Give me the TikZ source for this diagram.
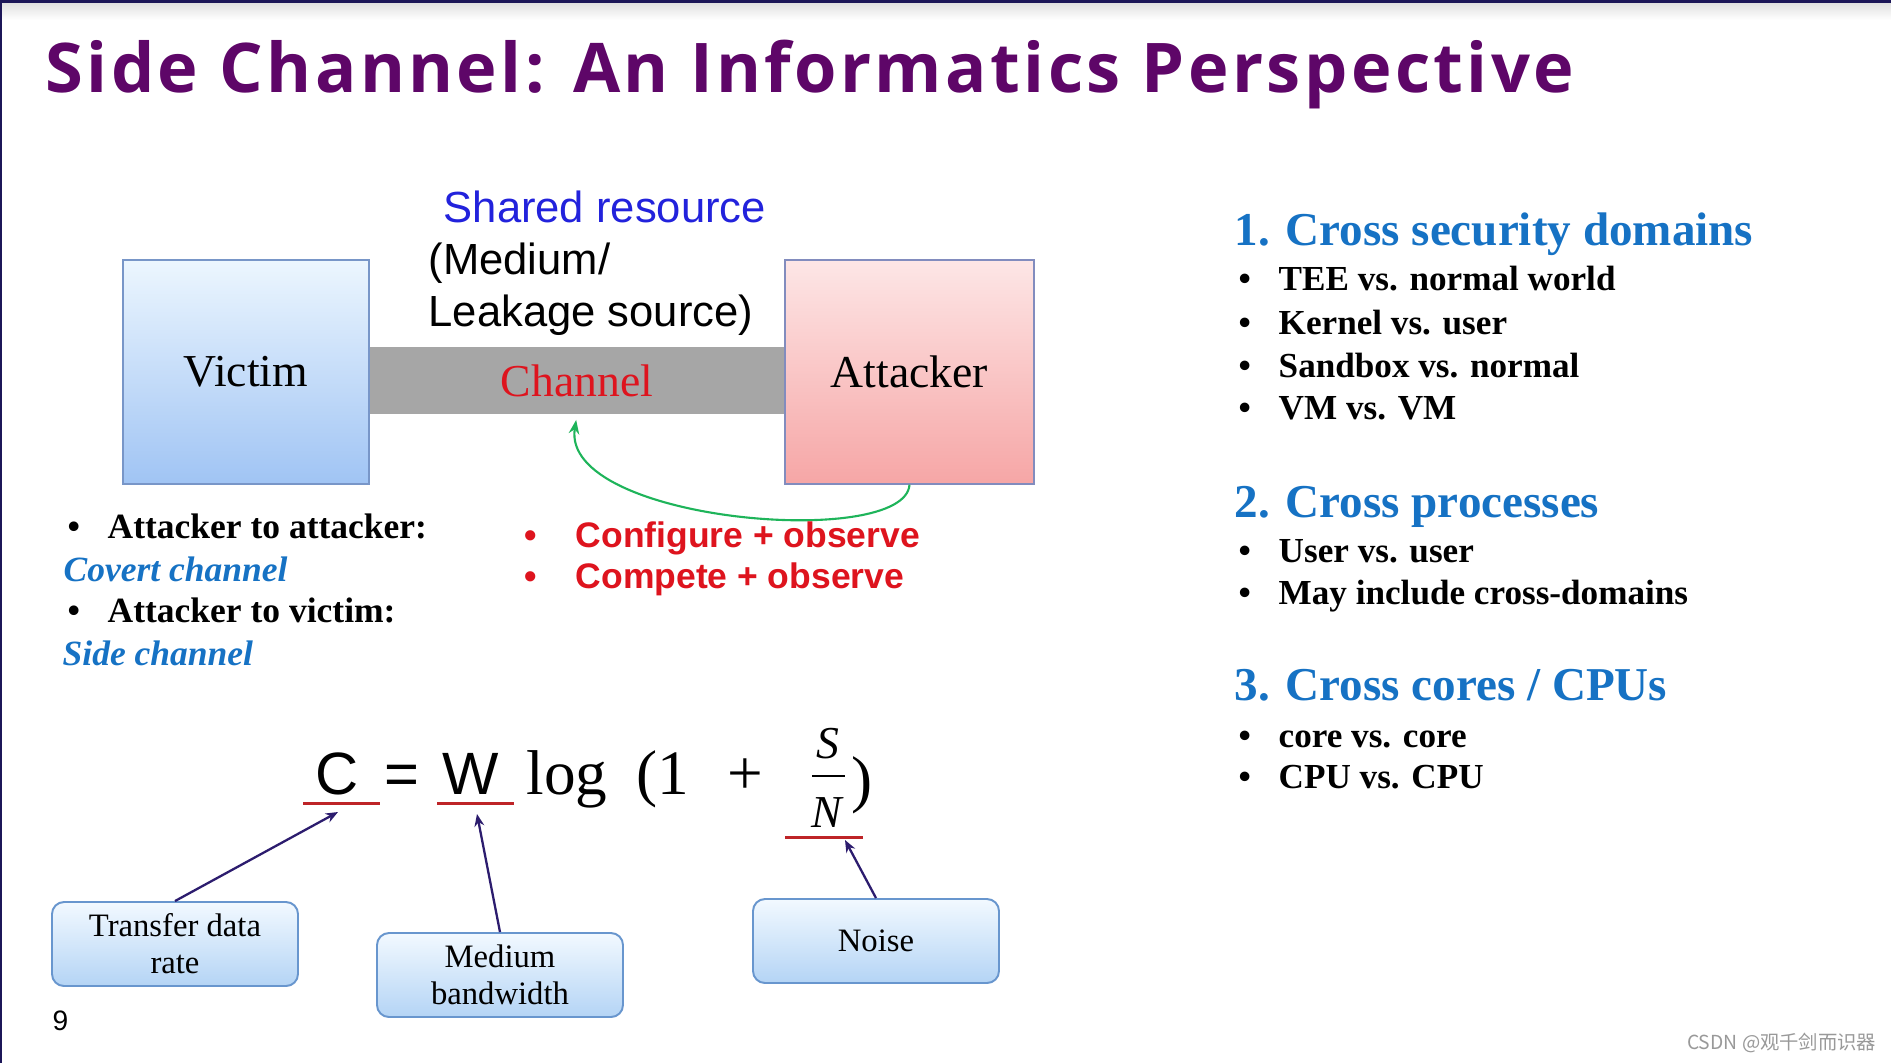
\documentclass[tikz,border=0pt]{standalone}
\usepackage{fontspec}
\setmainfont{Liberation Serif}
\setsansfont{Liberation Sans}
\newfontfamily\titlefont[LetterSpace=5]{Open Sans}
\newfontfamily\cjkfont{Noto Sans CJK SC}
\usetikzlibrary{arrows.meta}
\usetikzlibrary{calc}
\usetikzlibrary{positioning}

\definecolor{titlepurple}{RGB}{94,6,104}
\definecolor{headblue}{RGB}{22,114,196}
\definecolor{sharedblue}{RGB}{34,34,220}
\definecolor{chanred}{RGB}{222,20,30}
\definecolor{linered}{RGB}{190,36,40}
\definecolor{arrowink}{RGB}{44,28,110}
\definecolor{framenavy}{RGB}{28,22,88}
\definecolor{boxedge}{RGB}{104,150,206}
\definecolor{linkgreen}{RGB}{30,180,90}

\begin{document}
\begin{tikzpicture}[x=0.1mm, y=-0.1mm]
	\useasboundingbox (0,0) rectangle (1891,1063);
	\fill[white] (0,0) rectangle (1891,1063);
	% slide frame
	\fill[top color=black!12, bottom color=white] (0,3) rectangle (1891,20);
	\fill[framenavy] (0,0) rectangle (1891,3);
	\fill[framenavy] (0,0) rectangle (2.5,1063);

	\node[anchor=base west, inner sep=0, text=titlepurple, font=\titlefont\bfseries\fontsize{19.5}{23}\selectfont] (title) at (45,92) {Side Channel: An Informatics Perspective};

	% channel picture
	\node[fill={rgb,255:red,166;green,166;blue,166}, minimum width=41.6mm, minimum height=6.7mm, inner sep=0,
	      text=chanred, font=\fontsize{13}{15}\selectfont] (channel) at (577,380.5) {Channel};
	\begin{scope}[every node/.style={draw, line width=0.4pt, minimum height=22.4mm, inner sep=0,
	              font=\fontsize{13}{15}\selectfont}]
		\node[draw={rgb,255:red,120;green,150;blue,200}, minimum width=24.6mm,
		      top color={rgb,255:red,236;green,246;blue,254}, bottom color={rgb,255:red,160;green,196;blue,244}] (victim) at (246,372) {Victim};
		\node[draw={rgb,255:red,130;green,140;blue,190}, minimum width=24.9mm,
		      top color={rgb,255:red,253;green,230;blue,230}, bottom color={rgb,255:red,246;green,166;blue,166}] (attacker) at (909.5,372) {Attacker};
	\end{scope}

	\begin{scope}[every node/.style={anchor=base west, inner sep=0, font=\sffamily\fontsize{12.4}{15}\selectfont}]
		\node[text=sharedblue] (shared) at (443,222) {Shared resource};
		\node (medium) at (428,274) {(Medium/};
		\node (leak) at (428,326) {Leakage source)};
	\end{scope}

	\draw[linkgreen, line width=0.6pt, -{Stealth[length=4pt, width=3pt]}, shorten >=1.5pt]
		(attacker.south) .. controls (905,550) and (560,522) .. (channel.south);

	% bullets under the picture
	\begin{scope}[every node/.style={anchor=base west, inner sep=0, font=\bfseries\fontsize{10.1}{12}\selectfont}]
		\node (b1) at (67,538) {\textbullet};
		\node (a2a) at (107,538) {Attacker to attacker:};
		\node[text=headblue, font=\bfseries\itshape\fontsize{10.1}{12}\selectfont] (covert) at (63,581) {Covert channel};
		\node (b2) at (67,622) {\textbullet};
		\node (a2v) at (107,622) {Attacker to victim:};
		\node[text=headblue, font=\bfseries\itshape\fontsize{10.1}{12}\selectfont] (side) at (62,665) {Side channel};
	\end{scope}
	\begin{scope}[every node/.style={anchor=base west, inner sep=0, text=chanred, font=\sffamily\bfseries\fontsize{10.1}{12}\selectfont}]
		\node (b3) at (524,547) {\textbullet};
		\node (config) at (575,547) {Configure + observe};
		\node (b4) at (524,588) {\textbullet};
		\node (compete) at (575,588) {Compete + observe};
	\end{scope}

	% right column
	\begin{scope}[every node/.style={anchor=base west, inner sep=0, font=\bfseries\fontsize{10}{12}\selectfont}]
		\node[text=headblue, font=\bfseries\fontsize{13.4}{16}\selectfont] (head1) at (1234,245) {1. Cross security domains};
		\node (d1) at (1238,290) {\textbullet};
		\node (tee) at (1278,290) {TEE vs. normal world};
		\node (d2) at (1238,334) {\textbullet};
		\node (kern) at (1278,334) {Kernel vs. user};
		\node (d3) at (1238,377) {\textbullet};
		\node (sand) at (1278,377) {Sandbox vs. normal};
		\node (d4) at (1238,419) {\textbullet};
		\node (vm) at (1278,419) {VM vs. VM};
		\node[text=headblue, font=\bfseries\fontsize{13.4}{16}\selectfont] (head2) at (1234,517) {2. Cross processes};
		\node (p1) at (1238,562) {\textbullet};
		\node (user) at (1278,562) {User vs. user};
		\node (p2) at (1238,604) {\textbullet};
		\node (may) at (1278,604) {May include cross-domains};
		\node[text=headblue, font=\bfseries\fontsize{13.4}{16}\selectfont] (head3) at (1234,700) {3. Cross cores / CPUs};
		\node (c1) at (1238,747) {\textbullet};
		\node (core) at (1278,747) {core vs. core};
		\node (c2) at (1238,788) {\textbullet};
		\node (cpu) at (1278,788) {CPU vs. CPU};
	\end{scope}

	% formula
	\begin{scope}[every node/.style={inner sep=0, anchor=base, font=\fontsize{18}{20}\selectfont}]
		\node[font=\sffamily\fontsize{17}{20}\selectfont] (cap) at (337,794) {C};
		\node[font=\sffamily\fontsize{17}{20}\selectfont] (equal) at (402,794) {=};
		\node[font=\sffamily\fontsize{17}{20}\selectfont] (wid) at (471,794) {W};
		\node (logw) at (567,794) {log};
		\node (one) at (663,794) {(1};
		\node (plus) at (745,794) {+};
		\node[font=\itshape\fontsize{13}{15}\selectfont] (sig) at (828,758) {S};
		\node[font=\itshape\fontsize{13}{15}\selectfont] (noi) at (827,827) {N};
		\node (close) at (862,800) {)};
	\end{scope}
	\draw[line width=0.5pt] (812,776) -- (845,776);
	\begin{scope}[linered, line width=0.85pt]
		\draw (303,803) -- (380,803);
		\draw (437,803) -- (514,803);
		\draw (785,837) -- (863,837);
	\end{scope}
	\coordinate (ctip) at (338,812);
	\coordinate (wtip) at (477,814);
	\coordinate (ntip) at (845,840);

	\begin{scope}[every node/.style={draw=boxedge, line width=0.55pt, rounded corners=1.2mm,
	              top color={rgb,255:red,242;green,249;blue,255}, bottom color={rgb,255:red,180;green,212;blue,245},
	              minimum width=24.6mm, minimum height=8.4mm, inner sep=0, align=center,
	              font=\fontsize{9.3}{10.5}\selectfont}]
		\node (rate) at (175,944) {Transfer data\\rate};
		\node (band) at (500,975) {Medium\\bandwidth};
		\node (noise) at (876,941) {Noise};
	\end{scope}

	\begin{scope}[>={Stealth[length=3.5pt, width=2.8pt]},
	              every edge/.style={draw=arrowink, line width=0.65pt}]
		\path[->] (rate.north) edge (ctip);
		\path[->] (band.north) edge (wtip);
		\path[->] (noise.north) edge (ntip);
	\end{scope}

	\node[anchor=base west, inner sep=0, font=\sffamily\fontsize{8}{10}\selectfont] (page) at (52,1030) {9};
	\node[anchor=base east, inner sep=0, text=black!40, font=\cjkfont\fontsize{5.5}{7}\selectfont] (mark) at (1877,1049) {CSDN @观千剑而识器};
\end{tikzpicture}
\end{document}
